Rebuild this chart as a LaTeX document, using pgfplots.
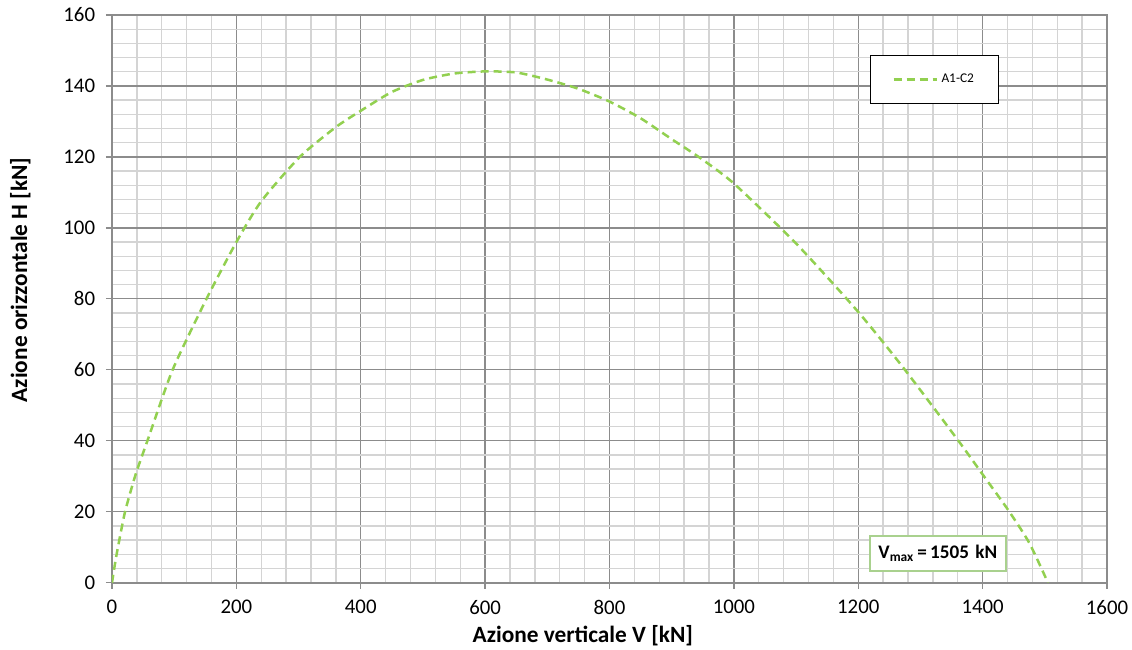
\documentclass[border=0pt]{standalone}
\usepackage{pgfplots}
\pgfplotsset{compat=1.18}
\usepackage{fontspec}
\setmainfont{Carlito}
\definecolor{curvegreen}{HTML}{92D050}
\definecolor{majorgrid}{HTML}{8C8C8C}
\definecolor{minorgrid}{HTML}{D4D4D4}
\definecolor{boxgreen}{HTML}{A9D18E}
\begin{document}
\begin{tikzpicture}[x=1pt,y=1pt]
\begin{axis}[
  scale only axis,
  width=597pt, height=340.6pt,
  xmin=0, xmax=1600, ymin=0, ymax=160,
  xtick={0,200,...,1600}, ytick={0,20,...,160},
  minor x tick num=4, minor y tick num=4,
  grid=both,
  major grid style={draw=majorgrid, line width=0.8pt},
  minor grid style={draw=minorgrid, line width=0.8pt},
  axis line style={draw=majorgrid, line width=1.2pt},
  tick align=outside,
  major tick length=3.6pt, minor tick length=0pt,
  tick style={draw=majorgrid, line width=0.8pt},
  xtick pos=bottom, ytick pos=left,
  ticklabel style={font=\fontsize{12.5}{14}\selectfont, text=black},
  yticklabel style={xshift=-3pt},
  xticklabel style={yshift=-3.5pt},
  /pgf/number format/assume math mode=true,
  /pgf/number format/1000 sep={},
  xlabel={Azione verticale V [kN]},
  ylabel={Azione orizzontale H [kN]},
  label style={font=\bfseries\fontsize{14}{16}\selectfont},
  xlabel style={at={(rel axis cs:0.5,0)}, anchor=center, xshift=-16pt, yshift=-32pt},
  ylabel style={at={(rel axis cs:0,0.5)}, anchor=center, xshift=11.4pt, yshift=55pt},
  legend style={at={(0.762,0.9295)}, anchor=north west, draw=black, line width=0.6pt,
    inner xsep=13pt, inner ysep=9pt, font=\fontsize{8}{9.5}\selectfont, fill=white},
  legend cell align=left,
  legend image code/.code={\draw[#1] (0pt,0pt) -- (26pt,0pt);},
]
\addplot[curvegreen, line width=1.5pt, dash pattern=on 4.8pt off 3pt, smooth, tension=0.4] coordinates {
  (0,0) (5,5.5) (10,10.4) (21,20) (38,30.5) (57,40) (97.5,60) (152,80) (200,96)
  (240,107.5) (302,120) (360,128.4) (400,133) (450,138.3) (500,141.7)
  (550,143.5) (600,144.1) (650,143.8) (700,141.8) (750,139.2) (800,135.6)
  (850,130.9) (900,125) (945,119.8) (1000,112.5) (1100,95.6) (1200,76.3)
  (1275,60) (1361,40) (1400,30.5) (1441,20.5) (1475,11.2) (1505,0)
};
\addlegendentry{A1-C2}
\node[draw=boxgreen, line width=0.8pt, fill=white, minimum width=81.6pt, minimum height=21pt,
  font=\bfseries\fontsize{11.5}{13}\selectfont, inner sep=0pt]
  at (axis cs:1328,8.2) {V\textsubscript{max}\,=\,1505\,\,kN};
\end{axis}
\pgfresetboundingbox
\path (-67.2pt,-40.4pt) rectangle (612pt,349.6pt);
\end{tikzpicture}
\end{document}
